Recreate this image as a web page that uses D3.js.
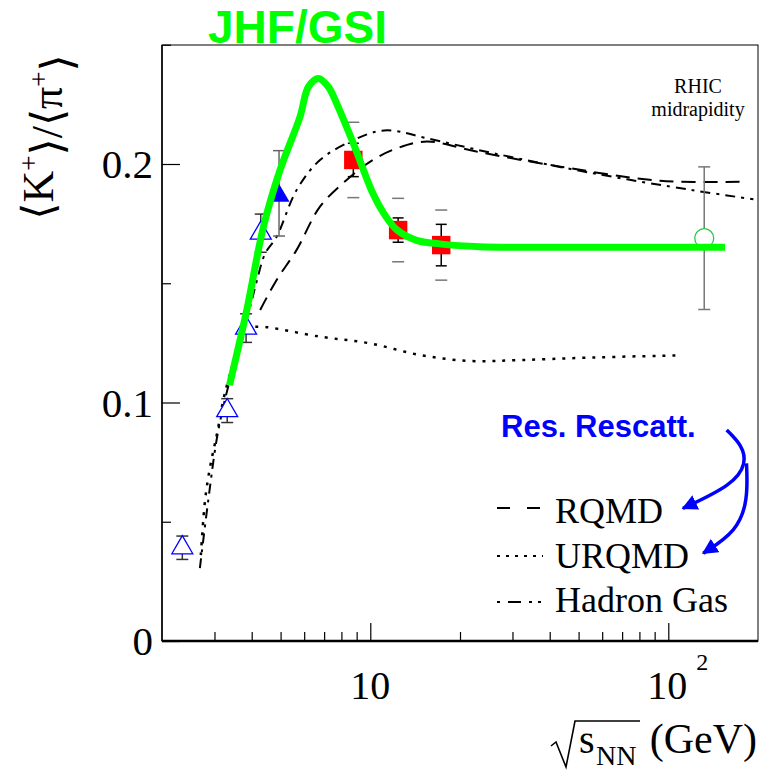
<!DOCTYPE html>
<html>
<head>
<meta charset="utf-8">
<script src="https://cdn.jsdelivr.net/npm/d3@7"></script>
<style>
  body { margin: 0; background: #fff; }
  svg { display: block; }
  .serif { font-family: "Liberation Serif", "DejaVu Serif", serif; }
  .sans { font-family: "Liberation Sans", Arial, sans-serif; font-weight: bold; }
</style>
</head>
<body>
<svg id="chart" width="760" height="772"></svg>
<script>
// ---- data ----
// AGS open triangles
const agsX = [2.34, 3.31, 3.83, 4.29];
const agsY = [0.0391, 0.0966, 0.1312, 0.171];
const agsErr = [0.0049, 0.005, 0.006, 0.008];
// AGS filled triangle
const agsFilledX = [4.94];
const agsFilledY = [0.1867];
const agsFilledLo = [0.1698];
const agsFilledHi = [0.2056];
// SPS red squares
const spsX = [8.77, 12.4, 17.3];
const spsY = [0.2017, 0.1723, 0.166];
const spsStat = [0.007, 0.0051, 0.0087];
const spsSys = [0.0158, 0.0133, 0.0147];
// RHIC midrapidity
const rhicX = [132];
const rhicY = [0.1689];
const rhicErr = [0.0299];

// JHF/GSI green curve
const jhfX = [3.37, 3.85, 4.38, 4.98, 5.81, 6.2, 6.7, 7.23, 7.71, 8.77, 10.2, 11.1, 12.3, 14.3, 17.1, 23.3, 40, 155];
const jhfY = [0.1073, 0.1388, 0.1737, 0.1975, 0.2198, 0.2324, 0.2359, 0.2324, 0.2254, 0.2087, 0.1877, 0.1793, 0.1723, 0.168, 0.1665, 0.1653, 0.1651, 0.1651];
// RQMD (dashed)
const rqmdX = [4.27, 4.85, 5.66, 6.78, 8.33, 10.2, 12.3, 15.5, 22.7, 43.4, 93.8, 183];
const rqmdY = [0.1388, 0.1514, 0.164, 0.1821, 0.1933, 0.2017, 0.2066, 0.2094, 0.2052, 0.1989, 0.193, 0.1926];
// URQMD (dotted)
const urqmdX = [2.7, 2.79, 2.9, 3.06, 3.25, 3.66, 3.95, 4.27, 6.78, 9.97, 14.7, 21.6, 31.8, 53.2, 111];
const urqmdY = [0.036, 0.0591, 0.073, 0.087, 0.1038, 0.1248, 0.1311, 0.1318, 0.1276, 0.1248, 0.1199, 0.1174, 0.1178, 0.1188, 0.1198];
// Hadron gas (dash-dot)
const hgX = [2.68, 2.86, 3.05, 3.25, 3.95, 4.16, 4.44, 4.85, 5.66, 6.78, 8.77, 10.5, 11.9, 15.5, 25.9, 56, 121, 193];
const hgY = [0.0306, 0.0591, 0.0843, 0.101, 0.14, 0.151, 0.1625, 0.1695, 0.1891, 0.2017, 0.210, 0.2136, 0.214, 0.2108, 0.2045, 0.1961, 0.189, 0.1852];

const yMajor = [0, 0.1, 0.2];
const yMinor = [0.05, 0.15, 0.25];
const xMajor = [10, 100];
const xMinor = [3, 4, 5, 6, 7, 8, 9, 20, 30, 40, 50, 60, 70, 80, 90];

const legendItems = ["RQMD", "URQMD", "Hadron Gas"];
const legendDash = ["13,17", "3,6", "3,8,13,8,3,6,3"];

// arrow anchors for "Res. Rescatt." in data units
const arrowA = [[157, 0.0885], [177, 0.082], [183, 0.0745], [165, 0.0655], [112, 0.0556]];
const arrowB = [[183, 0.0745], [185, 0.059], [170, 0.046], [131, 0.0368]];

// ---- layout ----
const svg = d3.select("#chart");
const x = d3.scaleLog().domain([2, 200]).range([162, 758]);
const y = d3.scaleLinear().domain([0, 0.25]).range([641, 44.75]);

const line = d3.line().x(d => x(d[0])).y(d => y(d[1])).curve(d3.curveCatmullRom);
const zip = (a, b) => a.map((v, i) => [v, b[i]]);

// frame
svg.append("rect").attr("x", 162).attr("y", 45).attr("width", 596).attr("height", 596)
  .attr("fill", "none").attr("stroke", "#000").attr("stroke-width", 1);
svg.append("line").attr("x1", 162).attr("x2", 758).attr("y1", 641).attr("y2", 641)
  .attr("stroke", "#000").attr("stroke-width", 2.5);
svg.append("line").attr("x1", 162).attr("x2", 162).attr("y1", 45).attr("y2", 641)
  .attr("stroke", "#000").attr("stroke-width", 1.5);

// y axis
const yAx = svg.append("g").attr("transform", "translate(162,0)")
  .call(d3.axisLeft(y).tickValues(yMajor).tickSize(-18).tickPadding(9)
    .tickFormat(d => d === 0 ? "0" : d.toFixed(1)));
yAx.select(".domain").remove();
yAx.selectAll("text").attr("class", "serif").style("font-size", "41px").attr("dy", "0.34em");
svg.append("g").attr("transform", "translate(162,0)")
  .call(d3.axisLeft(y).tickValues(yMinor).tickSize(-9).tickFormat(""))
  .select(".domain").remove();

// x axis
const xAx = svg.append("g").attr("transform", "translate(0,641)")
  .call(d3.axisBottom(x).tickValues(xMajor).tickSize(-18).tickFormat(""));
xAx.select(".domain").remove();
svg.append("g").attr("transform", "translate(0,641)")
  .call(d3.axisBottom(x).tickValues(xMinor).tickSize(-9).tickFormat(""))
  .select(".domain").remove();
svg.selectAll(".tick line").attr("stroke", "#000").attr("stroke-width", 1.2);

svg.append("text").attr("class", "serif").attr("x", x(10)).attr("y", 699)
  .attr("text-anchor", "middle").style("font-size", "40px").text("10");
svg.append("text").attr("class", "serif").attr("x", x(100) - 1).attr("y", 699)
  .attr("text-anchor", "middle").style("font-size", "40px").text("10");
svg.append("text").attr("class", "serif").attr("x", x(100) + 28).attr("y", 670)
  .style("font-size", "24px").text("2");

// x title: sqrt(s_NN) (GeV)
svg.append("path").attr("d", "M551,746 L556,742 L566,767 L575,721 L640,721")
  .attr("fill", "none").attr("stroke", "#000").attr("stroke-width", 1.6);
svg.append("text").attr("class", "serif").attr("x", 579).attr("y", 753)
  .style("font-size", "40px").text("s");
svg.append("text").attr("class", "serif").attr("x", 596).attr("y", 765)
  .style("font-size", "28px").text("NN");
svg.append("text").attr("class", "serif").attr("x", 757).attr("y", 753)
  .attr("text-anchor", "end").style("font-size", "42px").text("(GeV)");

// y title
const yt = svg.append("text").attr("class", "serif")
  .attr("transform", "translate(53,137) rotate(-90)")
  .attr("text-anchor", "middle").style("font-size", "44px");
yt.append("tspan").text("\u27E8K");
yt.append("tspan").attr("dy", "-0.55em").style("font-size", "27px").text("+");
yt.append("tspan").attr("dy", "0.55em").text("\u27E9/\u27E8\u03C0");
yt.append("tspan").attr("dy", "-0.55em").style("font-size", "27px").text("+");
yt.append("tspan").attr("dy", "0.55em").text("\u27E9");

// model curves
const plot = svg.append("g");
plot.append("path").attr("d", line(zip(rqmdX, rqmdY)))
  .attr("fill", "none").attr("stroke", "#000").attr("stroke-width", 2).attr("stroke-dasharray", "14,8");
plot.append("path").attr("d", line(zip(urqmdX, urqmdY)))
  .attr("fill", "none").attr("stroke", "#000").attr("stroke-width", 2.5).attr("stroke-dasharray", "3,7");
plot.append("path").attr("d", line(zip(hgX, hgY)))
  .attr("fill", "none").attr("stroke", "#000").attr("stroke-width", 2).attr("stroke-dasharray", "10,6,3,6");

// error bar helper
function errBar(cx, lo, hi, color, cap, drawLine) {
  if (drawLine) {
    plot.append("line").attr("x1", x(cx)).attr("x2", x(cx)).attr("y1", y(lo)).attr("y2", y(hi))
      .attr("stroke", color).attr("stroke-width", 1.5);
  }
  [lo, hi].forEach(v => plot.append("line")
    .attr("x1", x(cx) - cap).attr("x2", x(cx) + cap).attr("y1", y(v)).attr("y2", y(v))
    .attr("stroke", color).attr("stroke-width", 1.5));
}

// AGS open triangles
agsX.forEach((v, i) => errBar(v, agsY[i] - agsErr[i], agsY[i] + agsErr[i], "#333", 6, true));
plot.selectAll(".tri").data(zip(agsX, agsY)).join("path")
  .attr("transform", d => `translate(${x(d[0])},${y(d[1])})`)
  .attr("d", d3.symbol(d3.symbolTriangle, 190))
  .attr("fill", "#fff").attr("stroke", "#0000ff").attr("stroke-width", 1.3);

// AGS filled triangle
agsFilledX.forEach((v, i) => errBar(v, agsFilledLo[i], agsFilledHi[i], "#666", 6, true));
plot.selectAll(".trif").data(zip(agsFilledX, agsFilledY)).join("path")
  .attr("transform", d => `translate(${x(d[0])},${y(d[1])})`)
  .attr("d", d3.symbol(d3.symbolTriangle, 190))
  .attr("fill", "#0000ff");

// SPS squares
spsX.forEach((v, i) => {
  errBar(v, spsY[i] - spsSys[i], spsY[i] + spsSys[i], "#777", 6, false);
  errBar(v, spsY[i] - spsStat[i], spsY[i] + spsStat[i], "#000", 5.5, true);
});
plot.selectAll(".sq").data(zip(spsX, spsY)).join("path")
  .attr("transform", d => `translate(${x(d[0])},${y(d[1])})`)
  .attr("d", d3.symbol(d3.symbolSquare, 340))
  .attr("fill", "#ff0000");

// RHIC circle
rhicX.forEach((v, i) => errBar(v, rhicY[i] - rhicErr[i], rhicY[i] + rhicErr[i], "#777", 6, true));
plot.selectAll(".circ").data(zip(rhicX, rhicY)).join("circle")
  .attr("cx", d => x(d[0])).attr("cy", d => y(d[1])).attr("r", 9.5)
  .attr("fill", "#fff").attr("stroke", "#22cc44").attr("stroke-width", 1.3);

// JHF/GSI curve
plot.append("path").attr("d", line(zip(jhfX, jhfY)))
  .attr("fill", "none").attr("stroke", "#00ff00").attr("stroke-width", 7)
  .attr("stroke-linejoin", "round");

// texts
svg.append("text").attr("class", "sans").attr("x", 208).attr("y", 43)
  .style("font-size", "46px").attr("fill", "#00ff00").text("JHF/GSI");
svg.append("text").attr("class", "serif").attr("x", 698).attr("y", 93)
  .attr("text-anchor", "middle").style("font-size", "20px").text("RHIC");
svg.append("text").attr("class", "serif").attr("x", 698).attr("y", 116)
  .attr("text-anchor", "middle").style("font-size", "20px").text("midrapidity");
svg.append("text").attr("class", "sans").attr("x", 501).attr("y", 437)
  .style("font-size", "31px").attr("fill", "#0000ff").text("Res. Rescatt.");

// arrows
svg.append("defs").append("marker").attr("id", "ah")
  .attr("viewBox", "0 0 10 10").attr("refX", 9).attr("refY", 5)
  .attr("markerWidth", 4.5).attr("markerHeight", 4.5).attr("orient", "auto")
  .attr("markerUnits", "strokeWidth")
  .append("path").attr("d", "M0,0 L10,5 L0,10 z").attr("fill", "#0000ff");
[arrowA, arrowB].forEach(pts => svg.append("path")
  .attr("d", d3.line().x(d => x(d[0])).y(d => y(d[1])).curve(d3.curveBasis)(pts))
  .attr("fill", "none").attr("stroke", "#0000ff").attr("stroke-width", 3.5)
  .attr("marker-end", "url(#ah)"));

// legend
const legY = [508, 556, 602];
const legBase = [523, 568, 612];
legendItems.forEach((name, i) => {
  svg.append("line").attr("x1", 497).attr("x2", 543).attr("y1", legY[i]).attr("y2", legY[i])
    .attr("stroke", "#000").attr("stroke-width", 2).attr("stroke-dasharray", legendDash[i]);
  svg.append("text").attr("class", "serif").attr("x", 555).attr("y", legBase[i])
    .style("font-size", "36px").text(name);
});
</script>
</body>
</html>
